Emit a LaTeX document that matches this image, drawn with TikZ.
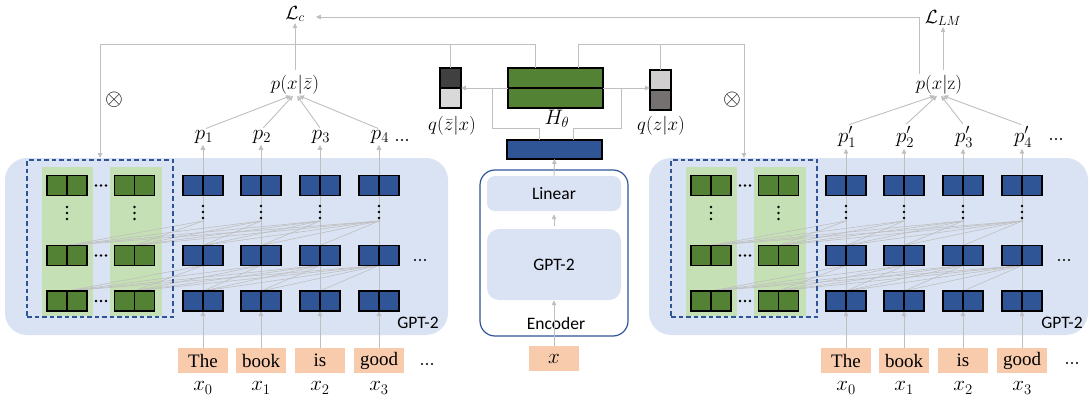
\RequirePackage{fix-cm}
\documentclass[tikz,border=0pt]{standalone}
\usepackage{fontspec}
\usetikzlibrary{arrows.meta}
\newfontfamily\sansf{Carlito}
\newfontfamily\serf{Liberation Serif}
\definecolor{panel}{HTML}{DAE3F3}
\definecolor{dblue}{HTML}{2F5597}
\definecolor{lgreen}{HTML}{C5E0B4}
\definecolor{dgreen}{HTML}{548235}
\definecolor{peach}{HTML}{F8CBAD}
\definecolor{lgray}{HTML}{BFBFBF}
\definecolor{qdark}{HTML}{404040}
\definecolor{qlight}{HTML}{D9D9D9}
\definecolor{qmid}{HTML}{767171}
\definecolor{qlt}{HTML}{D0CECE}
\pgfdeclarelayer{bg}\pgfdeclarelayer{ln}\pgfsetlayers{bg,ln,main}
\begin{document}
\begin{tikzpicture}[x=1pt,y=-1pt,
  gl/.style={draw=lgray,line width=0.9pt},
  att/.style={draw=lgray,line width=0.6pt},
  arr/.style={gl,-{Triangle[length=5pt,width=4.5pt]}},
  gblk/.style={draw=black,line width=1.1pt,fill=dgreen,minimum width=40pt,minimum height=20pt,inner sep=0pt,outer sep=0pt},
  bblk/.style={draw=black,line width=1.1pt,fill=dblue,minimum width=40pt,minimum height=20pt,inner sep=0pt,outer sep=0pt},
  tok/.style={fill=peach,minimum width=50pt,minimum height=25pt,inner sep=0pt,font=\serf\fontsize{19}{20}\selectfont},
  mlab/.style={font=\fontsize{19}{21}\selectfont,inner sep=1pt},
  blab/.style={font=\fontsize{21}{23}\selectfont,inner sep=1pt},
  slab/.style={font=\sansf\fontsize{17.5}{20}\selectfont,inner sep=1pt},
  qbox/.style={draw=black,line width=1.1pt,minimum width=21pt,minimum height=20pt,inner sep=0pt,outer sep=0pt}]
\useasboundingbox (0,0) rectangle (1089,401);

% ---------- panels ----------
\begin{pgfonlayer}{bg}
\fill[panel,rounded corners=22pt] (5,158) rectangle (448,335);
\fill[panel,rounded corners=22pt] (649,158) rectangle (1088,335);
\foreach \o in {0,644}{
  \fill[lgreen] ({42+\o},167) rectangle ({93+\o},316);
  \fill[lgreen] ({110+\o},167) rectangle ({162+\o},316);
}
\end{pgfonlayer}
\foreach \P/\o in {L/0,R/644}{
  \node[draw=dblue,dashed,dash pattern=on 4.5pt off 3pt,line width=1.1pt,minimum width=146pt,minimum height=157pt,inner sep=0pt] (dash\P) at ({100+\o},238.5) {};
}

% ---------- blocks ----------
\foreach \P/\o/\ob in {L/0/0,R/644/643}{
  \foreach \c/\gx in {1/67,2/134.5}{
    \foreach \r/\ry in {1/185.5,2/255.5,3/301}{
      \node[gblk] (g\P\r\c) at ({\gx+\o},\ry) {};
      \draw[line width=1.1pt] (g\P\r\c.north) -- (g\P\r\c.south);
    }
    \foreach \dy in {207,213,219} \fill ({\gx+\o},\dy) circle (1.4pt);
  }
  \foreach \r/\ry in {1/185.5,2/255.5,3/301}{
    \foreach \dx in {96,101,106} \fill ({\dx+\o},\ry) circle (1.3pt);
  }
  \foreach \c/\bx in {1/203,2/261,3/320,4/379}{
    \foreach \r/\ry in {1/185.5,2/255.5,3/301}{
      \node[bblk] (b\P\r\c) at ({\bx+\ob},\ry) {};
      \draw[line width=1.1pt] (b\P\r\c.north) -- (b\P\r\c.south);
    }
    \foreach \dy in {206,212,218} \fill ({\bx+\ob},\dy) circle (1.4pt);
    \coordinate (d\P\c) at ({\bx+\ob},221);
  }
  \foreach \dx in {415,420,425} \fill ({\dx+\o},260) circle (1.2pt);
  \node[slab] (gpt\P) at ({418+\o},323) {GPT-2};
}

% ---------- tokens and labels ----------
\foreach \P/\ob/\pr in {L/0/{},R/643/{'}}{
  \foreach \j/\bx/\w/\i in {1/203/The/0,2/261/book/1,3/320/is/2,4/379/good/3}{
    \node[tok] (t\P\j) at ({\bx+\ob},360.5) {\w};
    \node[blab] (x\P\j) at ({\bx+\ob},388) {$x_{\i}$};
    \node[blab] (p\P\j) at ({\bx+\ob+1},137) {$p\pr_{\j}$};
  }
}
\foreach \dx in {397,402,407} \fill (\dx,140) circle (1.2pt);
\foreach \dx in {1051,1056,1061} \fill (\dx,139) circle (1.2pt);
\foreach \dx in {422,427,432} \fill (\dx,364) circle (1.2pt);
\foreach \dx in {1067,1072,1077} \fill (\dx,363) circle (1.2pt);

\node[mlab] (pxz) at (295,85) {$p(x|\bar{z})$};
\node[mlab] (pz) at (939,85) {$p(x|\mathrm{z})$};
\node[mlab] (Lc) at (295,14) {$\mathcal{L}_c$};
\node[mlab] (Llm) at (943,18) {$\mathcal{L}_{LM}$};
\node[font=\fontsize{23}{24}\selectfont,inner sep=0pt] (otL) at (114,100) {$\otimes$};
\node[font=\fontsize{23}{24}\selectfont,inner sep=0pt] (otR) at (732,100) {$\otimes$};

% ---------- centre ----------
\node[draw=dblue,line width=1.2pt,rounded corners=15pt,fill=white,minimum width=148pt,minimum height=166pt,inner sep=0pt] (enc) at (554,253) {};
\node[fill=panel,rounded corners=8pt,minimum width=134pt,minimum height=35pt,inner sep=0pt,slab] (lin) at (554,193.5) {Linear};
\node[fill=panel,rounded corners=12pt,minimum width=134pt,minimum height=71pt,inner sep=0pt,slab] (gptE) at (554,264.5) {GPT-2};
\node[slab,fill=white,inner sep=0.5pt] (encl) at (556,323) {Encoder};
\node[fill=peach,minimum width=50pt,minimum height=25pt,inner sep=0pt,blab] (xin) at (554,358.5) {$x$};
\node[draw=black,line width=1.1pt,fill=dblue,minimum width=95pt,minimum height=19pt,inner sep=0pt,outer sep=0pt] (eout) at (554.5,149.5) {};

\node[draw=black,line width=1.2pt,fill=dgreen,minimum width=95pt,minimum height=20pt,inner sep=0pt,outer sep=0pt] (Htop) at (555.5,78) {};
\node[draw=black,line width=1.2pt,fill=dgreen,minimum width=95pt,minimum height=20pt,inner sep=0pt,outer sep=0pt] (Hbot) at (555.5,98) {};
\node[blab] (Hl) at (557,119) {$H_\theta$};
\node[qbox,fill=qdark] (qb1) at (450.5,78) {};
\node[qbox,fill=qlight] (qb2) at (450.5,98) {};
\node[qbox,fill=qlt] (qz1) at (660.5,80) {};
\node[qbox,fill=qmid] (qz2) at (660.5,100) {};
\node[mlab] (qbl) at (452,126) {$q(\bar{z}|x)$};
\node[mlab] (qzl) at (661,126) {$q(z|x)$};

\coordinate (inL) at (100,158);
\coordinate (inR) at (744,158);
\coordinate (jL) at (492,88);
\coordinate (jR) at (621,88);

% ---------- connectors ----------
\begin{pgfonlayer}{ln}
\foreach \P in {L,R}{
  \foreach \j in {1,2,3,4}{
    \draw[att] (d\P\j) -- (g\P21.north);
    \draw[att] (d\P\j) -- (g\P22.north);
    \draw[att] (b\P2\j.south) -- (g\P31.north);
    \draw[att] (b\P2\j.south) -- (g\P32.north);
    \draw[arr] (t\P\j.north) -- (b\P3\j.south);
    \draw[gl] (b\P3\j.center) -- (b\P1\j.center);
    \draw[arr] (b\P1\j.north) -- (p\P\j.south -| b\P1\j.north);
  }
  \foreach \j/\k in {2/1,3/1,3/2,4/1,4/2,4/3}{
    \draw[att] (d\P\j) -- (b\P2\k.north);
    \draw[att] (b\P2\j.south) -- (b\P3\k.north);
  }
}
\draw[gl] (lin.north) -- (eout.south);
\end{pgfonlayer}

\foreach \j/\s in {1/-4,2/-2,3/2,4/4}{
  \draw[arr,shorten <=2pt] (pL\j.north) -- ([xshift=\s pt]pxz.south);
  \draw[arr,shorten <=2pt] (pR\j.north) -- ([xshift=\s pt]pz.south);
}
\draw[arr,shorten <=4pt] (pxz.north) -- (Lc.south);
\draw[arr,shorten <=4pt] (pz.north -| Llm.south) -- (Llm.south);
\draw[arr,shorten >=10pt] ([xshift=-20pt]pz.north) |- ([yshift=-3pt]Lc.east);

\draw[arr] ([xshift=-20.5pt]Htop.north) -- ++(0,-24) -| (inL);
\draw[gl] (qb1.north) -- ++(0,-24);
\draw[arr] ([xshift=22.5pt]Htop.north) -- ++(0,-24) -| (inR);
\draw[gl] (qz1.north) -- ++(0,-26);

\draw[arr] (Hbot.north west) -- (qb2.north east);
\draw[arr] (Hbot.north east) -- (Hbot.north east -| qz2.west);
\draw[gl] ([xshift=-15.5pt]eout.north) -- ++(0,-12) -| (jL);
\draw[gl] ([xshift=18.5pt]eout.north) -- ++(0,-12) -| (jR);

\draw[arr] (xin.north) -- (gptE.south);
\draw[arr,shorten <=3pt,shorten >=3pt] (gptE.north) -- (lin.south);
\draw[arr,shorten <=0pt] (lin.north) -- (eout.south);
\end{tikzpicture}
\end{document}
